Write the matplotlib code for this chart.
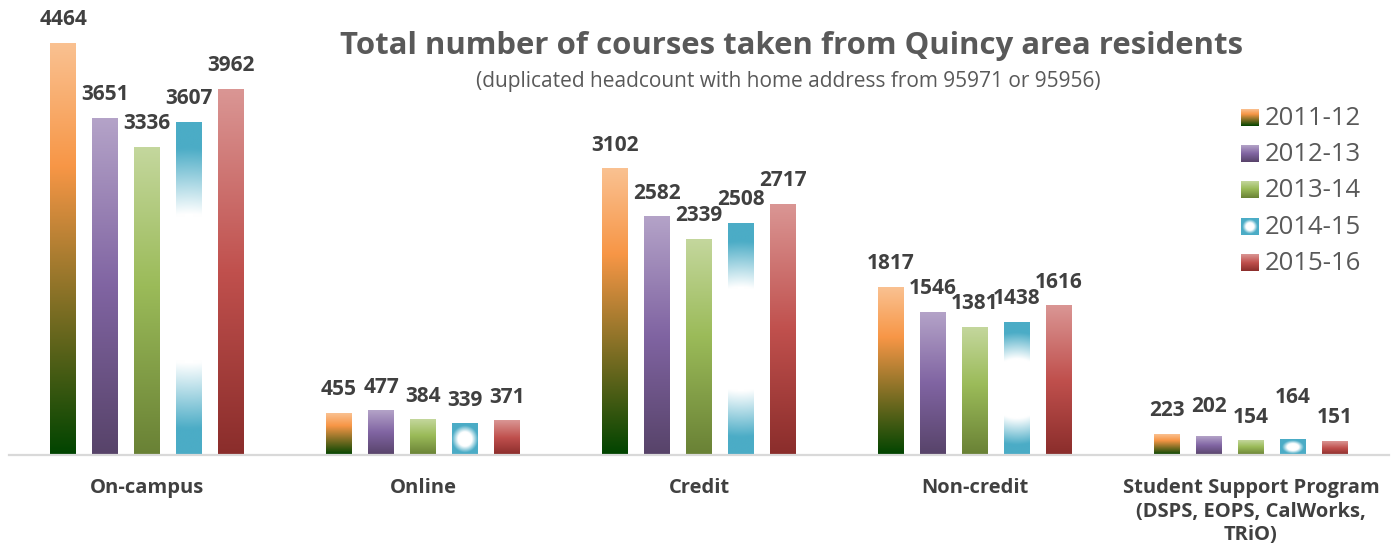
import matplotlib.pyplot as plt
import numpy as np
from matplotlib.colors import to_rgb

plt.rcParams['font.family'] = ['Open Sans', 'DejaVu Sans']

categories = ["On-campus", "Online", "Credit", "Non-credit",
              "Student Support Program\n(DSPS, EOPS, CalWorks,\nTRiO)"]
years = ["2011-12", "2012-13", "2013-14", "2014-15", "2015-16"]
y2011 = [4464, 455, 3102, 1817, 223]
y2012 = [3651, 477, 2582, 1546, 202]
y2013 = [3336, 384, 2339, 1381, 154]
y2014 = [3607, 339, 2508, 1438, 164]
y2015 = [3962, 371, 2717, 1616, 151]
series = [y2011, y2012, y2013, y2014, y2015]

# gradient stops, top -> bottom (None = blue edges with white centre)
stops = [
    [(0.0, "#FAC191"), (0.3, "#F79646"), (1.0, "#004400")],
    [(0.0, "#B4A3C8"), (0.5, "#8064A2"), (1.0, "#574369")],
    [(0.0, "#C4D79D"), (0.45, "#9BBB59"), (1.0, "#698135")],
    None,
    [(0.0, "#DA9694"), (0.5, "#C0504D"), (1.0, "#8A2D2B")],
]
BLUE = "#4BACC6"

# excel moved a couple of labels up to avoid overlaps (points)
label_lift = {(4, 1): 4.5, (4, 3): 13.5}

W, H = 1396, 554


def vertical(st, n=256):
    t = np.linspace(0, 1, n)
    pos = [p for p, _ in st]
    cols = np.array([to_rgb(c) for _, c in st])
    img = np.stack([np.interp(t, pos, cols[:, k]) for k in range(3)], axis=-1)
    return img[:, None, :]


def centre_fill(w_px, h_px):
    u = np.linspace(-1, 1, 64)
    v = np.linspace(-1, 1, 128)
    U, V = np.meshgrid(u, v)
    k = min(1.0, w_px / max(h_px, 1))
    r = np.sqrt(V ** 2 + (U * k) ** 2)
    a = np.clip((r - 0.45) / 0.4, 0, 1)[..., None]
    return (1 - a) * np.ones(3) + a * np.array(to_rgb(BLUE))


fig = plt.figure(figsize=(W / 100, H / 100), dpi=100)
ax = fig.add_axes([9 / W, 99 / H, 1380 / W, 455 / H])
ymax = 4930
ax.set_xlim(-0.5, 4.5)
ax.set_ylim(0, ymax)

x = np.arange(len(categories))
step, width = 0.152, 0.094
for i, vals in enumerate(series):
    bars = ax.bar(x + (i - 2) * step, vals, width, color="none", linewidth=0, zorder=2)
    for j, b in enumerate(bars):
        x0, w, h = b.get_x(), b.get_width(), b.get_height()
        if stops[i] is None:
            img = centre_fill(w * 1380 / 5, h * 455 / ymax)
        else:
            img = vertical(stops[i])
        ax.imshow(img, extent=(x0, x0 + w, 0, h), aspect="auto", zorder=2,
                  interpolation="bilinear")
        ax.annotate(str(vals[j]), (x0 + w / 2, h),
                    xytext=(0, 13 + label_lift.get((j, i), 0)),
                    textcoords="offset points", ha="center", va="baseline",
                    fontsize=15, fontweight="bold", color="#404040")

ax.set_xlim(-0.5, 4.5)
ax.set_ylim(0, ymax)
for s in ["top", "left", "right"]:
    ax.spines[s].set_visible(False)
ax.spines["bottom"].set_color("#D9D9D9")
ax.spines["bottom"].set_linewidth(1.6)
ax.set_yticks([])
ax.set_xticks(x, categories, fontsize=14.5, fontweight="bold", color="#404040",
              linespacing=1.25)
ax.tick_params(axis="x", length=0, pad=16.5)

fig.text(791 / W, 1 - 46 / H, "Total number of courses taken from Quincy area residents",
         ha="center", va="center", fontsize=22.4, fontweight="bold", color="#595959")
fig.text(788 / W, 1 - 82 / H, "(duplicated headcount with home address from 95971 or 95956)",
         ha="center", va="center", fontsize=15, color="#595959")

# legend with gradient swatches
for i, yr in enumerate(years):
    yc = 117.5 + 36.2 * i
    sq = fig.add_axes([1241 / W, 1 - (yc + 8.5) / H, 17 / W, 17 / H])
    img = centre_fill(1, 1) if stops[i] is None else vertical(stops[i])
    sq.imshow(img, extent=(0, 1, 0, 1), aspect="auto", interpolation="bilinear")
    sq.axis("off")
    fig.text(1265 / W, 1 - (yc + 1) / H, yr, ha="left", va="center", fontsize=18.5,
             color="#595959")

fig.savefig("out.png", dpi=100)
